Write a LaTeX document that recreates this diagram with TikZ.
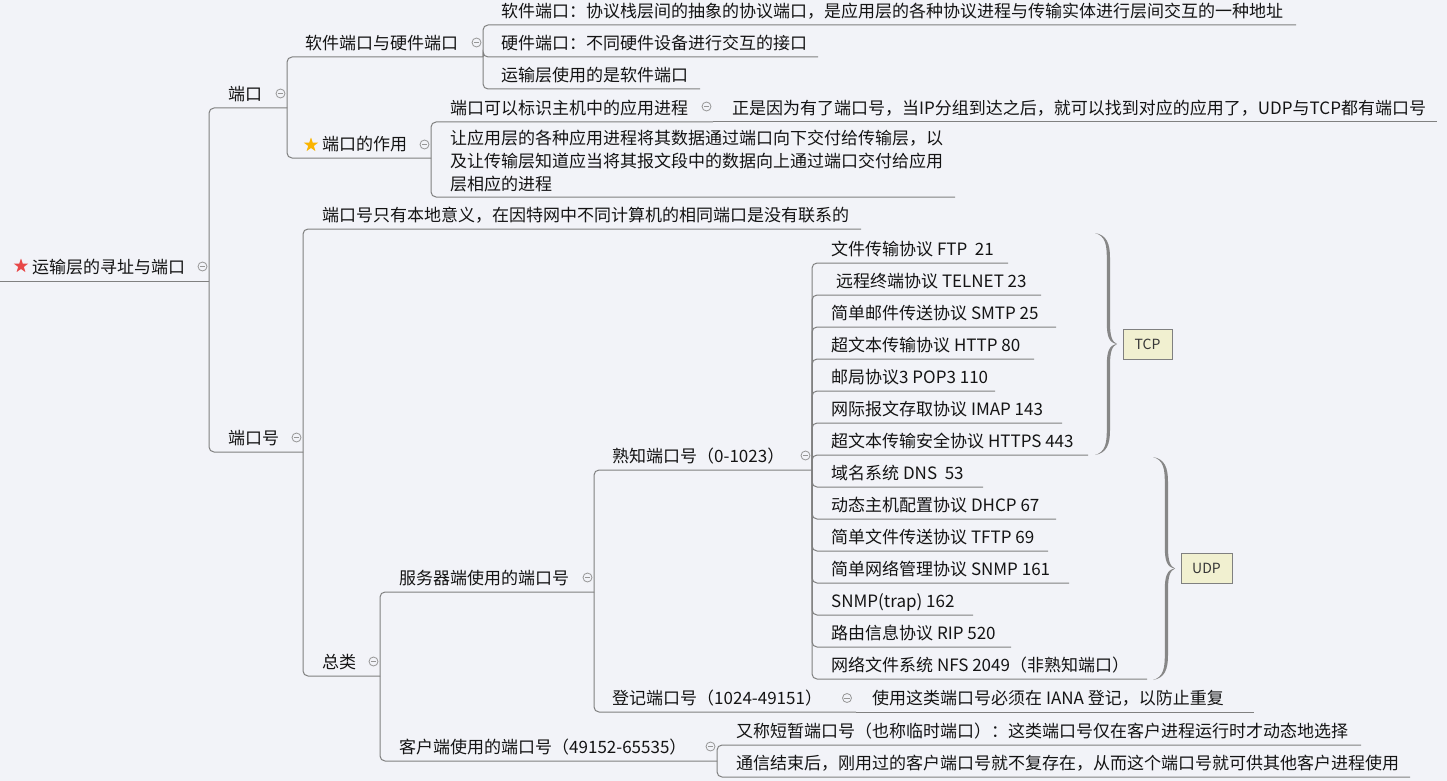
\documentclass[tikz,border=0pt]{standalone}
\usepackage{fontspec}
\setmainfont{Noto Sans CJK SC}
\usetikzlibrary{shapes.geometric}
\definecolor{bg}{RGB}{242,243,248}
\definecolor{ln}{RGB}{128,128,128}
\definecolor{txtc}{RGB}{20,20,20}
\definecolor{boxf}{RGB}{241,240,208}
\definecolor{starred}{RGB}{232,72,72}
\definecolor{stargold}{RGB}{250,180,0}
\definecolor{btn}{RGB}{150,150,150}
\definecolor{brc}{RGB}{135,135,135}
\tikzset{
  txt/.style={anchor=base west, inner sep=0pt, text=txtc, font=\fontsize{17}{23}\selectfont},
  conn/.style={draw=ln, line width=1pt, rounded corners=5pt},
  btnc/.style={circle, draw=btn, line width=0.8pt, fill=bg, minimum size=9pt, inner sep=0pt,
    path picture={\draw[btn, line width=0.8pt] ([xshift=-2.6pt]path picture bounding box.center) -- ([xshift=2.6pt]path picture bounding box.center);}},
  tagbox/.style={draw=ln, fill=boxf, line width=0.8pt, inner sep=0pt, text=txtc!85, font=\fontsize{14}{16}\selectfont},
  starmark/.style={star, star points=5, star point ratio=2.5, minimum size=15pt, inner sep=0pt}
}
\newcommand\mmtopic[5]{\node[txt] (#1) at (#2,#3-7.8) {#5}; \coordinate (#1-r) at (#4,#3);}
\newcommand\mmbtn[3]{\node[btnc] (#1) at (#2,#3) {};}
\newcommand\mmbrace[4]{% name, x0, ytop, half-height
\begin{scope}[shift={(#2,#3)}]
\fill[brc] (0,0) .. controls (12,2) and (15,11) .. (15,25) -- (15,#4-21) .. controls (15,#4-8) and (17,#4-2) .. (22,#4)
 .. controls (17,#4+2) and (15,#4+8) .. (15,#4+21) -- (15,2*#4-25) .. controls (15,2*#4-11) and (12,2*#4-2) .. (0,2*#4)
 .. controls (10,2*#4-3) and (11.8,2*#4-11) .. (11.8,2*#4-25) -- (11.8,#4+21) .. controls (11.8,#4+8) and (14,#4+1) .. (22,#4)
 .. controls (14,#4-1) and (11.8,#4-8) .. (11.8,#4-21) -- (11.8,25) .. controls (11.8,11) and (10,3) .. (0,0) -- cycle;
\coordinate (#1) at (22,#4);
\end{scope}}
\begin{document}
\begin{tikzpicture}[x=1pt,y=-1pt]
\useasboundingbox (0,0) rectangle (1447,781);
\fill[bg] (0,0) rectangle (1447,781);

% topics
\mmtopic{root}{32}{281}{209}{运输层的寻址与端口}
\coordinate (root-l) at (0,281);
\mmtopic{dk}{228}{108}{287}{端口}
\mmtopic{dkh}{228}{452}{303}{端口号}
\mmtopic{rj}{305}{57}{483}{软件端口与硬件端口}
\mmtopic{zy}{322}{158}{431}{端口的作用}
\mmtopic{s1}{501}{25}{1296}{软件端口：协议栈层间的抽象的协议端口，是应用层的各种协议进程与传输实体进行层间交互的一种地址}
\mmtopic{s2}{501}{57}{818}{硬件端口：不同硬件设备进行交互的接口}
\mmtopic{s3}{501}{89}{700}{运输层使用的是软件端口}
\mmtopic{z1}{450}{122}{713}{端口可以标识主机中的应用进程}
\mmtopic{z1a}{732}{122}{1437}{正是因为有了端口号，当IP分组到达之后，就可以找到对应的应用了，UDP与TCP都有端口号}
\node[txt, align=left] (z2) at (450,190.5) {让应用层的各种应用进程将其数据通过端口向下交付给传输层，以\\及让传输层知道应当将其报文段中的数据向上通过端口交付给应用\\层相应的进程};
\coordinate (z2-r) at (955,197);
\mmtopic{bd}{322}{229}{861}{端口号只有本地意义，在因特网中不同计算机的相同端口是没有联系的}
\mmtopic{zl}{322}{676}{380}{总类}
\mmtopic{fwq}{399}{592}{594}{服务器端使用的端口号}
\mmtopic{khd}{399}{761}{717}{客户端使用的端口号（49152-65535）}
\mmtopic{sz}{612}{470}{812}{熟知端口号（0-1023）}
\mmtopic{dj}{612}{712}{856}{登记端口号（1024-49151）}
\mmtopic{dj1}{872}{712}{1254}{使用这类端口号必须在 IANA 登记，以防止重复}
\mmtopic{kh1}{736}{745}{1361}{又称短暂端口号（也称临时端口）：这类端口号仅在客户进程运行时才动态地选择}
\mmtopic{kh2}{736}{777}{1410}{通信结束后，刚用过的客户端口号就不复存在，从而这个端口号就可供其他客户进程使用}
\mmtopic{p1}{831}{263}{1008}{文件传输协议 FTP~~21}
\mmtopic{p2}{836}{295}{1041}{远程终端协议 TELNET 23}
\mmtopic{p3}{831}{327}{1056}{简单邮件传送协议 SMTP 25}
\mmtopic{p4}{831}{359}{1034}{超文本传输协议 HTTP 80}
\mmtopic{p5}{831}{391}{995}{邮局协议3 POP3 110}
\mmtopic{p6}{831}{423}{1062}{网际报文存取协议 IMAP 143}
\mmtopic{p7}{831}{455}{1088}{超文本传输安全协议 HTTPS 443}
\mmtopic{u1}{831}{487}{983}{域名系统 DNS~~53}
\mmtopic{u2}{831}{519}{1056}{动态主机配置协议 DHCP 67}
\mmtopic{u3}{831}{551}{1048}{简单文件传送协议 TFTP 69}
\mmtopic{u4}{831}{583}{1069}{简单网络管理协议 SNMP 161}
\mmtopic{u5}{831}{615}{973}{SNMP(trap) 162}
\mmtopic{u6}{831}{647}{1011}{路由信息协议 RIP 520}
\mmtopic{u7}{831}{679}{1147}{网络文件系统 NFS 2049（非熟知端口）}

% connectors
\draw[conn] (root-l) -- (root-r);
\foreach \c in {dk,dkh} \draw[conn] (root-r) |- (\c-r);
\foreach \c in {rj,zy} \draw[conn] (dk-r) |- (\c-r);
\foreach \c in {s1,s2,s3} \draw[conn] (rj-r) |- (\c-r);
\foreach \c in {z1,z2} \draw[conn] (zy-r) |- (\c-r);
\draw[conn] (z1-r) -- (z1a-r);
\foreach \c in {bd,zl} \draw[conn] (dkh-r) |- (\c-r);
\foreach \c in {fwq,khd} \draw[conn] (zl-r) |- (\c-r);
\foreach \c in {sz,dj} \draw[conn] (fwq-r) |- (\c-r);
\draw[conn] (dj-r) -- (dj1-r);
\foreach \c in {kh1,kh2} \draw[conn] (khd-r) |- (\c-r);
\foreach \c in {p1,p2,p3,p4,p5,p6,p7,u1,u2,u3,u4,u5,u6,u7} \draw[conn] (sz-r) |- (\c-r);

% collapse buttons
\mmbtn{b-root}{202.5}{266.5}
\mmbtn{b-dk}{280.5}{93.5}
\mmbtn{b-dkh}{296.5}{437.5}
\mmbtn{b-rj}{476.5}{42.5}
\mmbtn{b-zy}{424.5}{144.5}
\mmbtn{b-z1}{706.5}{106.5}
\mmbtn{b-zl}{373.5}{661.5}
\mmbtn{b-fwq}{587.5}{577.5}
\mmbtn{b-sz}{805.5}{455.5}
\mmbtn{b-dj}{847}{698}
\mmbtn{b-khd}{710.5}{746.5}

% stars
\node[starmark, fill=starred] (st-root) at (21,266) {};
\node[starmark, fill=stargold] (st-zy) at (311,145) {};

% braces and tags
\mmbrace{tcp-tip}{1095}{233}{111}
\mmbrace{udp-tip}{1153}{457}{111.5}
\node[tagbox, minimum width=49pt, minimum height=30pt] (tcp) at (1147.5,344) {TCP};
\node[tagbox, minimum width=51pt, minimum height=30pt] (udp) at (1206.5,568) {UDP};
\end{tikzpicture}
\end{document}
